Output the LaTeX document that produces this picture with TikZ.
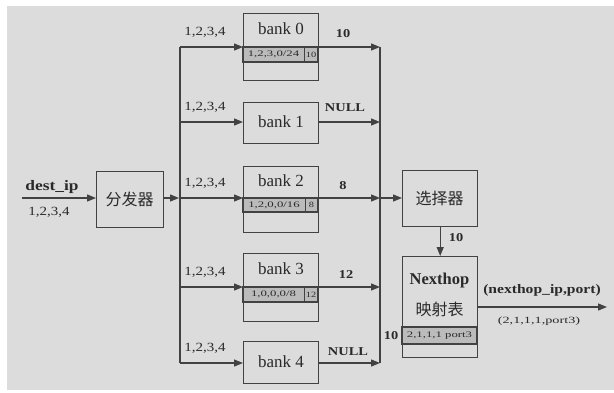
\documentclass[tikz,border=0pt]{standalone}
\usepackage{fontspec}
\setmainfont{Liberation Serif}
\newfontfamily\cjk{Noto Sans CJK SC}
\newfontfamily\wa[FakeStretch=1.2]{Liberation Serif}
\newfontfamily\wb[FakeStretch=1.5]{Liberation Serif}
\newfontfamily\wc[FakeStretch=1.3]{Liberation Serif}
\usetikzlibrary{arrows.meta}
\definecolor{bg}{HTML}{DCDCDC}
\definecolor{lc}{HTML}{424242}
\definecolor{sf}{HTML}{BBBBBB}
\definecolor{tc}{HTML}{2A2A2A}
\begin{document}
\begin{tikzpicture}[x=1pt,y=-1pt,
  box/.style={draw=lc,line width=1.4pt,anchor=north west,inner sep=0pt},
  stripe/.style={draw=lc,line width=1.4pt,fill=sf},
  arr/.style={draw=lc,line width=1.3pt,-{Triangle[length=9pt,width=7pt]}},
  ln/.style={draw=lc,line width=1.3pt},
  lbl/.style={text=tc,font=\wa\fontsize{12.5}{14}\selectfont,inner sep=0pt},
  rl/.style={text=tc,font=\wa\bfseries\fontsize{12}{14}\selectfont,inner sep=0pt},
  big/.style={text=tc,font=\fontsize{17}{19}\selectfont,inner sep=0pt},
  cn/.style={text=tc,font=\cjk\fontsize{16}{18}\selectfont,inner sep=0pt},
  tiny/.style={text=tc,font=\wb\fontsize{8.5}{9}\selectfont,inner sep=0pt},
  num/.style={text=tc,font=\wc\fontsize{8}{9}\selectfont,inner sep=0pt}]
\useasboundingbox (0,0) rectangle (614,392);
\fill[white] (0,0) rectangle (614,392);
\fill[bg] (7,6) rectangle (614,390);

% boxes
\node[box,minimum width=75pt,minimum height=67pt] (bank0) at (243,13) {};
\node[box,minimum width=75pt,minimum height=41pt] (bank1) at (243,102) {};
\node[box,minimum width=75pt,minimum height=66pt] (bank2) at (243,166) {};
\node[box,minimum width=75pt,minimum height=68pt] (bank3) at (243,253) {};
\node[box,minimum width=75pt,minimum height=42pt] (bank4) at (243,341) {};
\node[box,minimum width=67pt,minimum height=56pt] (fen) at (96,171) {};
\node[box,minimum width=75pt,minimum height=56pt] (sel) at (402,170) {};
\node[box,minimum width=75pt,minimum height=101pt] (nh) at (402,256) {};

% stripes
\draw[stripe] (243,47) rectangle (318,62);
\draw[lc,line width=0.8pt] (304,47) -- (304,62);
\node[tiny] (s0) at (273.5,54.5) {1,2,3,0/24};
\node[num] (s0b) at (311,54.5) {10};
\draw[stripe] (243,198) rectangle (318,212);
\draw[lc,line width=0.8pt] (305,198) -- (305,212);
\node[tiny] (s2) at (274,205) {1,2,0,0/16};
\node[num] (s2b) at (311.5,205) {8};
\draw[stripe] (243,287) rectangle (318,302);
\draw[lc,line width=0.8pt] (304,287) -- (304,302);
\node[tiny] (s3) at (273.5,294.5) {1,0,0,0/8};
\node[num] (s3b) at (311,294.5) {12};
\draw[stripe] (402,327) rectangle (477,344);
\node[tiny] (s4) at (439.5,335.5) {2,1,1,1 port3};

% box texts
\node[big] (t0) at (281,29) {bank 0};
\node[big] (t1) at (281,122) {bank 1};
\node[big] (t2) at (281,181) {bank 2};
\node[big] (t3) at (281,269) {bank 3};
\node[big] (t4) at (281,362) {bank 4};
\node[cn] (tf) at (129.5,199) {分发器};
\node[cn] (ts) at (439.5,198) {选择器};
\node[big,font=\bfseries\fontsize{16.5}{18}\selectfont] (tn1) at (439.5,281) {Nexthop};
\node[cn] (tn2) at (439.5,309) {映射表};

% input
\coordinate (in) at (22,198);
\draw[arr] (in) -- (fen.west |- in);
\node[lbl,font=\wa\bfseries\fontsize{14.5}{16}\selectfont] (dip) at (52,187) {dest\_ip};
\node[lbl] (dipv) at (49,212) {1,2,3,4};

% left trunk
\coordinate (ltop) at (180,47);
\coordinate (lbot) at (180,363);
\coordinate (lmid) at (180,198);
\draw[ln] (ltop) -- (lbot);
\draw[arr] (fen.east |- lmid) -- ([xshift=-1pt]lmid);
\foreach \y/\b in {47/bank0,122/bank1,198/bank2,287/bank3,363/bank4}{
  \draw[arr] (180,\y) -- (\b.west |- 0,\y);
  \node[lbl] at (205,\y-15) {1,2,3,4};
}

% right trunk
\coordinate (rtop) at (380,47);
\coordinate (rbot) at (380,363);
\coordinate (rmid) at (380,198);
\draw[ln] (rtop) -- (rbot);
\foreach \y/\b in {47/bank0,122/bank1,198/bank2,287/bank3,363/bank4}{
  \draw[arr] (\b.east |- 0,\y) -- (380,\y);
}
\node[rl] (o0) at (343,34) {10};
\node[rl] (o1) at (345,108) {NULL};
\node[rl] (o2) at (343,186) {8};
\node[rl] (o3) at (346,275) {12};
\node[rl] (o4) at (348,352) {NULL};
\draw[arr] (rmid) -- (sel.west |- rmid);

% selector to nexthop
\draw[arr] (sel.south) -- (nh.north);
\node[rl] (l10) at (456,238) {10};
\node[rl] (l10b) at (391,336) {10};

% output
\coordinate (out) at (607,307);
\draw[arr] (nh.east |- out) -- (out);
\node[rl,font=\wa\bfseries\fontsize{13}{15}\selectfont] (o5) at (542,290) {(nexthop\_ip,port)};
\node[tiny,font=\wb\fontsize{9.5}{11}\selectfont] (o6) at (539,321) {(2,1,1,1,port3)};
\end{tikzpicture}
\end{document}
